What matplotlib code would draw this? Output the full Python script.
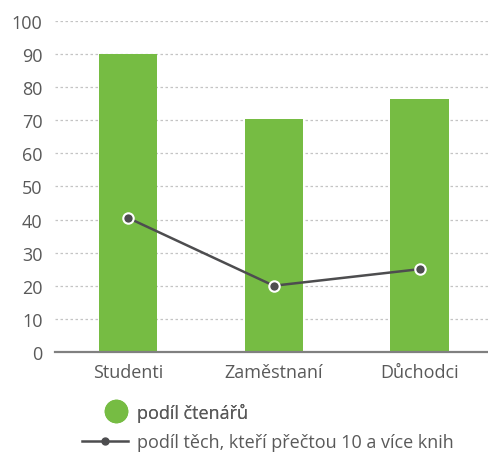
import matplotlib
matplotlib.use('Agg')
import matplotlib.pyplot as plt
from matplotlib.lines import Line2D

plt.rcParams['font.family'] = ['Open Sans', 'DejaVu Sans']

# Data
categories = ['Studenti', 'Zaměstnaní', 'Důchodci']
readers_share = [90, 70.5, 76.3]
ten_books_share = [40.5, 20, 25]
y_ticks = [0, 10, 20, 30, 40, 50, 60, 70, 80, 90, 100]

green = '#76BC43'
dark = '#4D4D4F'
text_grey = '#595959'

fig = plt.figure(figsize=(4.88, 4.56), dpi=100)
fig.patch.set_facecolor('white')
ax = fig.add_axes([0.113, 0.226, 0.887, 0.726])

x = range(len(categories))
ax.bar(x, readers_share, width=0.4, color=green, zorder=2)
ax.plot(x, ten_books_share, color=dark, linewidth=1.8, marker='o', markersize=7.5,
        markerfacecolor=dark, markeredgecolor='white', markeredgewidth=1.5, zorder=3)

ax.set_xlim(-0.5, 2.47)
ax.set_ylim(0, 100)
ax.set_yticks(y_ticks)
ax.set_xticks(list(x))
ax.set_xticklabels(categories)

ax.yaxis.grid(True, color='#C4C4C4', linestyle=(0, (2, 2)), linewidth=0.9, zorder=0)
ax.set_axisbelow(True)

for side in ['top', 'right', 'left']:
    ax.spines[side].set_visible(False)
ax.spines['bottom'].set_color('#808080')
ax.spines['bottom'].set_linewidth(1.6)
ax.spines['bottom'].set_zorder(4)

ax.tick_params(axis='both', length=0, labelsize=13, colors=text_grey)
ax.tick_params(axis='y', pad=9)
ax.tick_params(axis='x', pad=8)

# Legends
h1 = Line2D([], [], linestyle='none', marker='o', markersize=16,
            markerfacecolor=green, markeredgecolor=green)
h2 = Line2D([], [], color=dark, linewidth=1.8, marker='o', markersize=5,
            markerfacecolor=dark, markeredgecolor=dark)

leg1 = fig.legend([h1], ['podíl čtenářů'], loc='center left',
                  bbox_to_anchor=(104 / 488, 1 - 413 / 456), frameon=False,
                  fontsize=13, handlelength=1.33, handletextpad=0.5,
                  borderpad=0, borderaxespad=0, labelcolor=text_grey)
leg2 = fig.legend([h2], ['podíl těch, kteří přečtou 10 a více knih'], loc='center left',
                  bbox_to_anchor=(82 / 488, 1 - 443 / 456), frameon=False,
                  fontsize=13, handlelength=2.55, handletextpad=0.5,
                  borderpad=0, borderaxespad=0, labelcolor=text_grey)
fig.add_artist(leg1)

fig.savefig('out.png', dpi=100)
